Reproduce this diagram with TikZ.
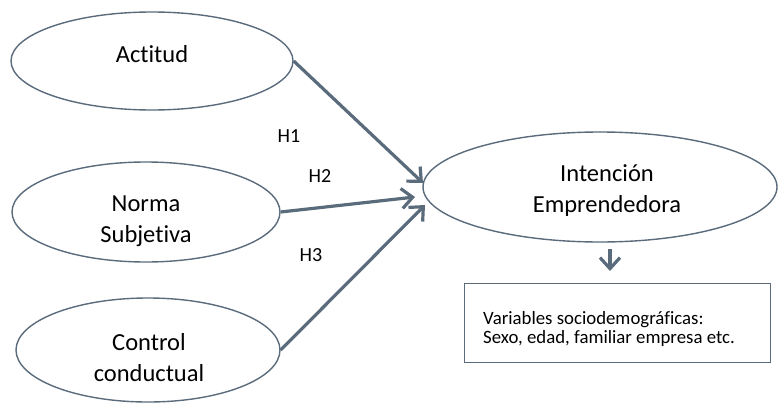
\documentclass[tikz,border=0pt]{standalone}
\usepackage{fontspec}
\setmainfont{Carlito}[Ligatures=NoCommon]
\usetikzlibrary{shapes.geometric,arrows.meta}
\definecolor{slate}{HTML}{5A6B7C}
\tikzset{
  oval/.style={ellipse, draw=slate, line width=1.4pt, fill=white, inner sep=0pt},
  otext/.style={align=center, font=\fontsize{24.5}{31}\selectfont, inner sep=0pt},
  conn/.style={draw=slate, line width=3.2pt, -{Straight Barb[length=11pt,width=20pt,line width=3.2pt]}},
  hlab/.style={font=\fontsize{20}{22}\selectfont, anchor=center, inner sep=0pt}
}
\begin{document}
\begin{tikzpicture}[x=1pt,y=-1pt]
\useasboundingbox (0,0) rectangle (778,404);
\fill[white] (0,0) rectangle (778,404);
\node[oval, minimum width=282pt, minimum height=98pt] (A) at (152,61) {};
\node[oval, minimum width=268pt, minimum height=100pt] (N) at (146,212) {};
\node[oval, minimum width=264pt, minimum height=104pt] (C) at (148,350) {};
\node[oval, minimum width=354pt, minimum height=110pt] (I) at (600,187) {};
\node[otext] (At) at (152,54) {Actitud};
\node[otext] (Nt) at (146,221) {Norma\\Subjetiva};
\node[otext] (Ct) at (149,358) {Control\\conductual};
\node[otext] (It) at (607,191) {Intención\\Emprendedora};
\node[draw=slate, line width=1.4pt, minimum width=306pt, minimum height=79pt, anchor=north west, inner sep=0pt] (B) at (464,283) {};
\node[anchor=west, align=left, inner sep=0pt, font=\fontsize{18.8}{19}\selectfont] (BT) at (483,329) {Variables sociodemográficas:\\Sexo, edad, familiar empresa etc.};
\coordinate (t1) at (423,183);
\coordinate (t2) at (415,197);
\coordinate (t3) at (425,205);
\draw[conn] (A.east) -- (t1);
\draw[conn] (N.east) -- (t2);
\draw[conn] (C.east) -- (t3);
\coordinate (d0) at (610,249);
\coordinate (d1) at (610,271);
\draw[conn] (d0) -- (d1);
\node[hlab] (H1) at (289,136) {H1};
\node[hlab] (H2) at (320,176) {H2};
\node[hlab] (H3) at (311,255) {H3};
\end{tikzpicture}
\end{document}
